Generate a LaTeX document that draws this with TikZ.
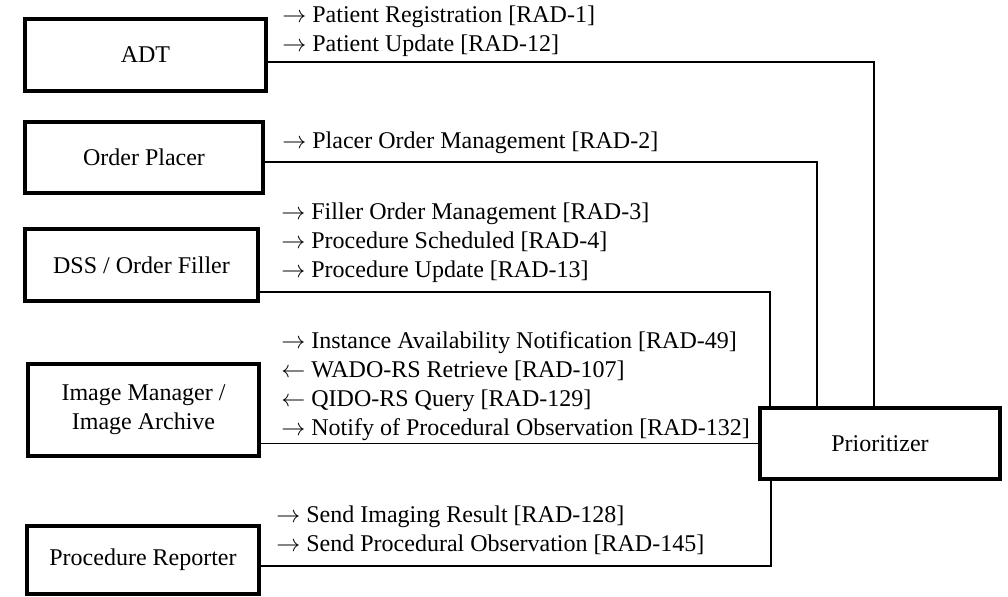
\documentclass[tikz,border=0pt]{standalone}
\usepackage{fontspec}
\setmainfont{Liberation Serif}
\usetikzlibrary{positioning}
\tikzset{
x=0.5pt, y=-0.5pt, % one unit is one pixel of the layout, y grows downwards
every node/.style={font=\fontsize{12}{14.5}\selectfont}, % Times-like text everywhere
actor/.style={draw, line width=2.2pt, align=center, inner sep=2pt}, % the thick actor boxes
link/.style={line width=0.8pt}, % plain connectors, no tips
txn/.style={anchor=base west, align=left, inner sep=0pt}, % transaction lists, placed by their last line
}

\begin{document}
\begin{tikzpicture}
    \useasboundingbox (0,0) rectangle (1008,596);

    \node[actor, minimum width=120.3pt, minimum height=35.8pt] (adt) at (145.5,55) {ADT};
    \node[actor, minimum width=118.8pt, minimum height=35.3pt] (placer) at (144,157.5) {Order Placer};
    \node[actor, minimum width=116.3pt, minimum height=35.8pt] (filler) at (141.5,265) {DSS / Order Filler};
    \node[actor, minimum width=115.3pt, minimum height=45.8pt] (archive) at (143.5,410) {Image Manager /\\Image Archive};
    \node[actor, minimum width=115.8pt, minimum height=33.8pt] (reporter) at (143,560) {Procedure Reporter};
    \node[actor, minimum width=119.8pt, minimum height=35.3pt] (prio) at (880,443.5) {Prioritizer};

    \draw[link] ([yshift=-3.5pt]adt.east) -| ([xshift=-3pt]prio.north);
    \draw[link] ([yshift=-2.25pt]placer.east) -| ([xshift=-31.5pt]prio.north);
    \draw[link] ([yshift=-13.5pt]filler.east) -| ([xshift=-55pt]prio.north);
    \draw[link] (archive.east |- prio.west) -- (prio.west);
    \draw[link] ([yshift=-3pt]reporter.east) -| ([xshift=-54.5pt]prio.south);

    \node[txn] (adtmsg) at (282,51) {$\rightarrow$ Patient Registration [RAD-1]\\$\rightarrow$ Patient Update [RAD-12]};
    \node[txn] (placermsg) at (282,148) {$\rightarrow$ Placer Order Management [RAD-2]};
    \node[txn] (fillermsg) at (281,277) {$\rightarrow$ Filler Order Management [RAD-3]\\$\rightarrow$ Procedure Scheduled [RAD-4]\\$\rightarrow$ Procedure Update [RAD-13]};
    \node[txn] (archivemsg) at (281,435) {$\rightarrow$ Instance Availability Notification [RAD-49]\\$\leftarrow$ WADO-RS Retrieve [RAD-107]\\$\leftarrow$ QIDO-RS Query [RAD-129]\\$\rightarrow$ Notify of Procedural Observation [RAD-132]};
    \node[txn] (reportermsg) at (276,551) {$\rightarrow$ Send Imaging Result [RAD-128]\\$\rightarrow$ Send Procedural Observation [RAD-145]};

\end{tikzpicture}
\end{document}
